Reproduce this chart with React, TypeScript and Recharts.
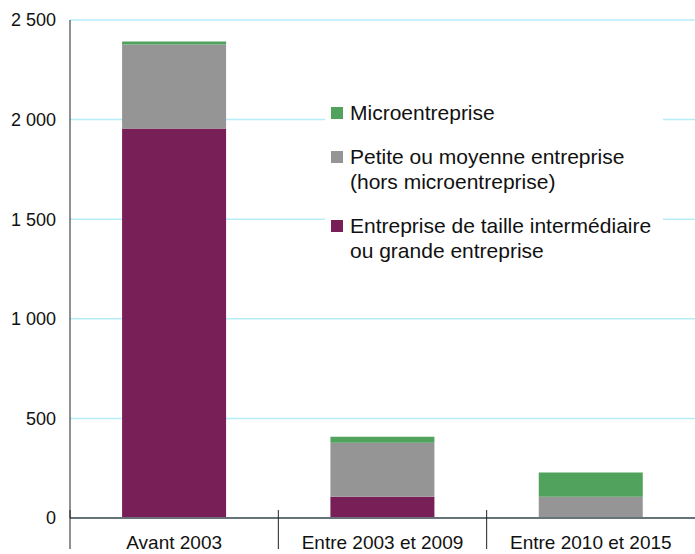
import { BarChart, Bar, XAxis, YAxis, CartesianGrid, Legend } from "recharts";

const categories = ["Avant 2003", "Entre 2003 et 2009", "Entre 2010 et 2015"];
const eti = [1955, 107, 4];
const pme = [422, 271, 103];
const micro = [15, 30, 122];
const yTicks = [0, 500, 1000, 1500, 2000, 2500];

const seriesNames = {
  eti: "Entreprise de taille intermédiaire\nou grande entreprise",
  pme: "Petite ou moyenne entreprise\n(hors microentreprise)",
  micro: "Microentreprise",
};
const legendOrder = ["micro", "pme", "eti"];

const data = categories.map((c, i) => ({ name: c, eti: eti[i], pme: pme[i], micro: micro[i] }));

const W = 695;
const H = 554;
const AXIS_W = 70;
const band = (W - AXIS_W) / categories.length;
const font = "'Liberation Sans', Arial, sans-serif";

const fmt = (v: number) => String(v).replace(/\B(?=(\d{3})+(?!\d))/g, " ");

function CategoryTick({ x, y, payload }: any) {
  return (
    <g>
      <line x1={x - band / 2} x2={x - band / 2} y1={y - 8} y2={y + 31} stroke="#222" strokeWidth={1} />
      <text x={x} y={y + 31} textAnchor="middle" fontSize={19} fill="#111" fontFamily={font}>
        {payload.value}
      </text>
    </g>
  );
}

function LegendBox({ payload }: any) {
  const items = (payload || [])
    .slice()
    .sort((a: any, b: any) => legendOrder.indexOf(a.dataKey) - legendOrder.indexOf(b.dataKey));
  return (
    <div style={{ background: "#fff", padding: "2px 0 6px 6px", fontFamily: font, fontSize: 21, color: "#111" }}>
      {items.map((it: any) => (
        <div key={it.dataKey} style={{ display: "flex", alignItems: "flex-start", marginBottom: 19 }}>
          <span style={{ width: 12, height: 12, background: it.color, marginTop: 7, marginRight: 7, flexShrink: 0 }} />
          <span style={{ whiteSpace: "pre-line", lineHeight: "25px" }}>{it.value}</span>
        </div>
      ))}
    </div>
  );
}

export default function App() {
  return (
    <div style={{ position: "absolute", left: 0, top: 0 }}>
      <BarChart width={W} height={H} data={data} margin={{ top: 20, right: 0, left: 0, bottom: 0 }} barCategoryGap="25%">
        <CartesianGrid vertical={false} stroke="#b5eef8" strokeWidth={1.5} />
        <XAxis
          dataKey="name"
          height={36}
          tickLine={false}
          tickSize={0}
          tickMargin={0}
          axisLine={{ stroke: "#66737a", strokeWidth: 2 }}
          tick={<CategoryTick />}
          interval={0}
        />
        <YAxis
          width={AXIS_W}
          domain={[0, 2500]}
          ticks={yTicks}
          tickFormatter={fmt}
          tickLine={false}
          tickMargin={8}
          axisLine={{ stroke: "#222" }}
          tick={{ fontSize: 18, fill: "#111", fontFamily: font }}
        />
        <Legend
          layout="vertical"
          align="center"
          verticalAlign="middle"
          content={<LegendBox />}
          wrapperStyle={{ left: 325, top: 98, width: 338 }}
        />
        <Bar dataKey="eti" name={seriesNames.eti} stackId="a" fill="#781f57" isAnimationActive={false} />
        <Bar dataKey="pme" name={seriesNames.pme} stackId="a" fill="#959595" isAnimationActive={false} />
        <Bar dataKey="micro" name={seriesNames.micro} stackId="a" fill="#50a25c" isAnimationActive={false} />
      </BarChart>
    </div>
  );
}
